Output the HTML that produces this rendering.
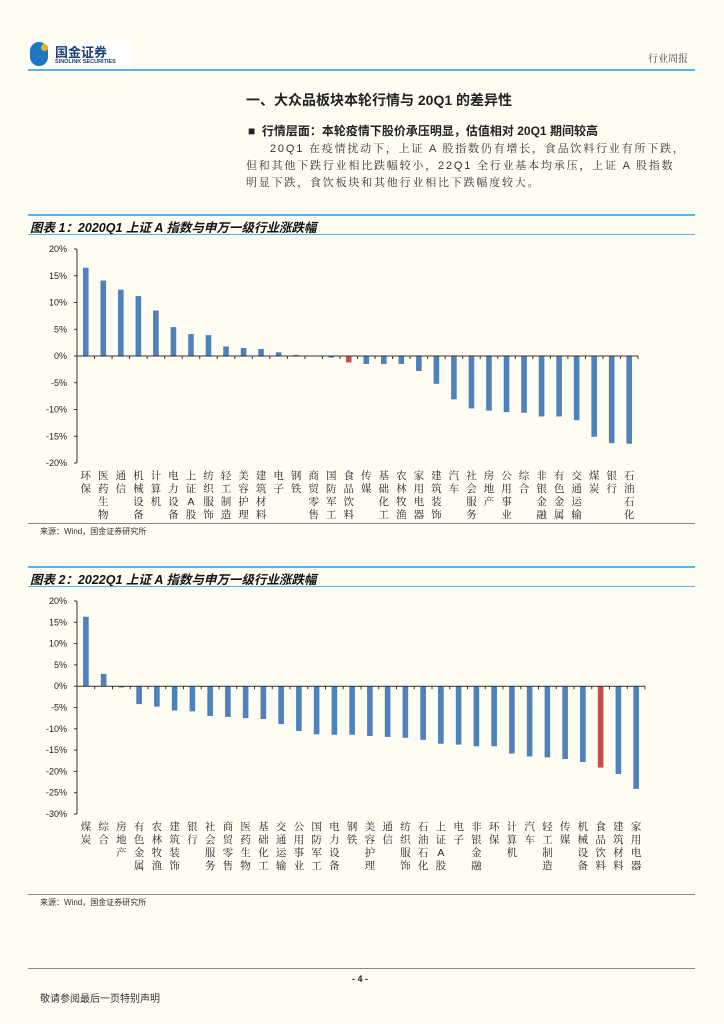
<!DOCTYPE html>
<html><head><meta charset="utf-8">
<style>
body{margin:0;background:#fffcf2;}
#page{position:relative;width:724px;height:1024px;background:#fffcf2;font-family:"Liberation Sans","Noto Sans CJK SC",sans-serif;color:#222;overflow:hidden}
.abs{position:absolute}
.line{position:absolute;background:#5bb4e5}
.ctitle{position:absolute;left:30px;font-size:12.5px;font-weight:bold;font-style:italic;color:#111}
.src{position:absolute;left:40px;font-size:8px;color:#333}
p{margin:0}
</style></head><body>
<div id="page">
<div class="abs" style="left:28px;top:40px;width:104px;height:30px;background:#fff">
  <div class="abs" style="left:2px;top:2px;width:18px;height:24px;border-radius:9px;background:#1d78c4"></div>
  <div class="abs" style="left:13px;top:4px;width:7px;height:7px;border-radius:4px;background:#f0b020"></div>
  <div class="abs" style="left:27px;top:2px;font-size:13px;font-weight:bold;color:#1a3f7a">国金证券</div>
  <div class="abs" style="left:27px;top:19px;font-size:5.5px;font-weight:bold;color:#1a3f7a">SINOLINK SECURITIES</div>
</div>
<div class="abs" style="right:36px;top:50px;font-size:10px;color:#444;font-family:'Noto Serif CJK SC',serif">行业周报</div>
<div class="line" style="left:28px;top:69px;width:667px;height:2px"></div>
<div class="abs" style="left:246px;top:90px;font-size:14px;font-weight:bold">一、大众品板块本轮行情与 20Q1 的差异性</div>
<div class="abs" style="left:248px;top:122px;font-size:12px;font-weight:bold">■&nbsp;&nbsp;行情层面：本轮疫情下股价承压明显，估值相对 20Q1 期间较高</div>
<div class="abs" style="left:246px;top:141px;width:440px;font-size:11px;line-height:17px;color:#333;letter-spacing:1.8px;font-family:'Liberation Sans','Noto Serif CJK SC',serif">
<p style="text-indent:24px">20Q1 在疫情扰动下，上证 A 股指数仍有增长，食品饮料行业有所下跌，但和其他下跌行业相比跌幅较小，22Q1 全行业基本均承压，上证 A 股指数明显下跌，食饮板块和其他行业相比下跌幅度较大。</p></div>

<div class="line" style="left:28px;top:214px;width:667px;height:2px"></div>
<div class="ctitle" style="top:217px">图表 1：2020Q1 上证 A 指数与申万一级行业涨跌幅</div>
<div class="line" style="left:28px;top:234px;width:667px;height:1px"></div>
<svg id="c1" class="abs" style="left:0;top:240px" width="724" height="285"></svg>
<div class="line" style="left:28px;top:523px;width:667px;height:1px;background:#888"></div>
<div class="src" style="top:526px">来源：Wind，国金证券研究所</div>

<div class="line" style="left:28px;top:566px;width:667px;height:2px"></div>
<div class="ctitle" style="top:569px">图表 2：2022Q1 上证 A 指数与申万一级行业涨跌幅</div>
<div class="line" style="left:28px;top:586px;width:667px;height:1px"></div>
<svg id="c2" class="abs" style="left:0;top:592px" width="724" height="300"></svg>
<div class="line" style="left:28px;top:894px;width:667px;height:1px;background:#888"></div>
<div class="src" style="top:897px">来源：Wind，国金证券研究所</div>

<div class="line" style="left:28px;top:968px;width:667px;height:1px;background:#888"></div>
<div class="abs" style="left:352px;top:974px;font-size:9px;font-weight:bold">- 4 -</div>
<div class="abs" style="left:40px;top:990px;font-size:10px;color:#333">敬请参阅最后一页特别声明</div>
</div>
<script>
const cats1=["环保","医药生物","通信","机械设备","计算机","电力设备","上证A股","纺织服饰","轻工制造","美容护理","建筑材料","电子","钢铁","商贸零售","国防军工","食品饮料","传媒","基础化工","农林牧渔","家用电器","建筑装饰","汽车","社会服务","房地产","公用事业","综合","非银金融","有色金属","交通运输","煤炭","银行","石油石化"];
const vals1=[16.5,14.1,12.4,11.2,8.5,5.4,4.1,3.9,1.8,1.5,1.3,0.7,0.2,-0.1,-0.3,-1.2,-1.5,-1.5,-1.5,-2.8,-5.2,-8.1,-9.8,-10.2,-10.5,-10.6,-11.3,-11.3,-12.0,-15.1,-16.3,-16.4];
const ticks1=[20,15,10,5,0,-5,-10,-15,-20];
const cats2=["煤炭","综合","房地产","有色金属","农林牧渔","建筑装饰","银行","社会服务","商贸零售","医药生物","基础化工","交通运输","公用事业","国防军工","电力设备","钢铁","美容护理","通信","纺织服饰","石油石化","上证A股","电子","非银金融","环保","计算机","汽车","轻工制造","传媒","机械设备","食品饮料","建筑材料","家用电器"];
const vals2=[16.3,2.9,-0.3,-4.2,-4.8,-5.7,-5.9,-7.0,-7.2,-7.5,-7.7,-8.9,-10.5,-11.3,-11.4,-11.4,-11.7,-11.9,-12.1,-12.6,-13.5,-13.7,-14.1,-14.1,-15.8,-16.5,-16.7,-17.1,-17.8,-19.1,-20.6,-24.1];
const ticks2=[20,15,10,5,0,-5,-10,-15,-20,-25,-30];
const NS="http://www.w3.org/2000/svg";
function mk(svg,t,a){const e=document.createElementNS(NS,t);for(const k in a)e.setAttribute(k,a[k]);svg.appendChild(e);return e;}
function draw(id,cats,vals,ticks,top,bottom,x0,x1,hl){
 const svg=document.getElementById(id);
 const max=ticks[0],min=ticks[ticks.length-1];
 const y=v=>top+(max-v)/(max-min)*(bottom-top);
 const n=cats.length,step=(x1-x0)/n;
 const x=i=>x0+step*(i+0.5);
 const ax=mk(svg,'line',{x1:x0,x2:x0,y1:top,y2:bottom,stroke:'#333','stroke-width':1});
 
 ticks.forEach(t=>{
  const tk=mk(svg,'line',{x1:x0-3,x2:x0,y1:y(t),y2:y(t),stroke:'#333'});
  
  const tl=mk(svg,'text',{x:x0-10,y:y(t)+3,'text-anchor':'end','font-size':9,fill:'#222','font-family':'Liberation Sans,sans-serif'});
  tl.textContent=t+'%';
  
 });
 vals.forEach((v,i)=>{
  const b=mk(svg,'rect',{x:x(i)-2.8,y:Math.min(y(v),y(0)),width:5.6,height:Math.abs(y(v)-y(0)),fill:cats[i]===hl?'#c0504d':'#4f81bd'});
  
  const tk=mk(svg,'line',{x1:x0+step*(i+1),x2:x0+step*(i+1),y1:y(0),y2:y(0)+3,stroke:'#333'});
  
  const chars=[...cats[i]];
  chars.forEach((c,j)=>{
   const tt=mk(svg,'text',{x:x(i),y:bottom+16+j*13,'text-anchor':'middle','font-size':10.5,fill:'#222','font-family':'Liberation Sans,Noto Serif CJK SC,serif'});
   tt.textContent=c;
   
  });
 });
 const xa=mk(svg,'line',{x1:x0,x2:x1,y1:y(0),y2:y(0),stroke:'#333','stroke-width':1});
 
}
draw('c1',cats1,vals1,ticks1,9,223,77,638,'食品饮料');
draw('c2',cats2,vals2,ticks2,9,222,77,645,'食品饮料');
</script>
</body></html>
